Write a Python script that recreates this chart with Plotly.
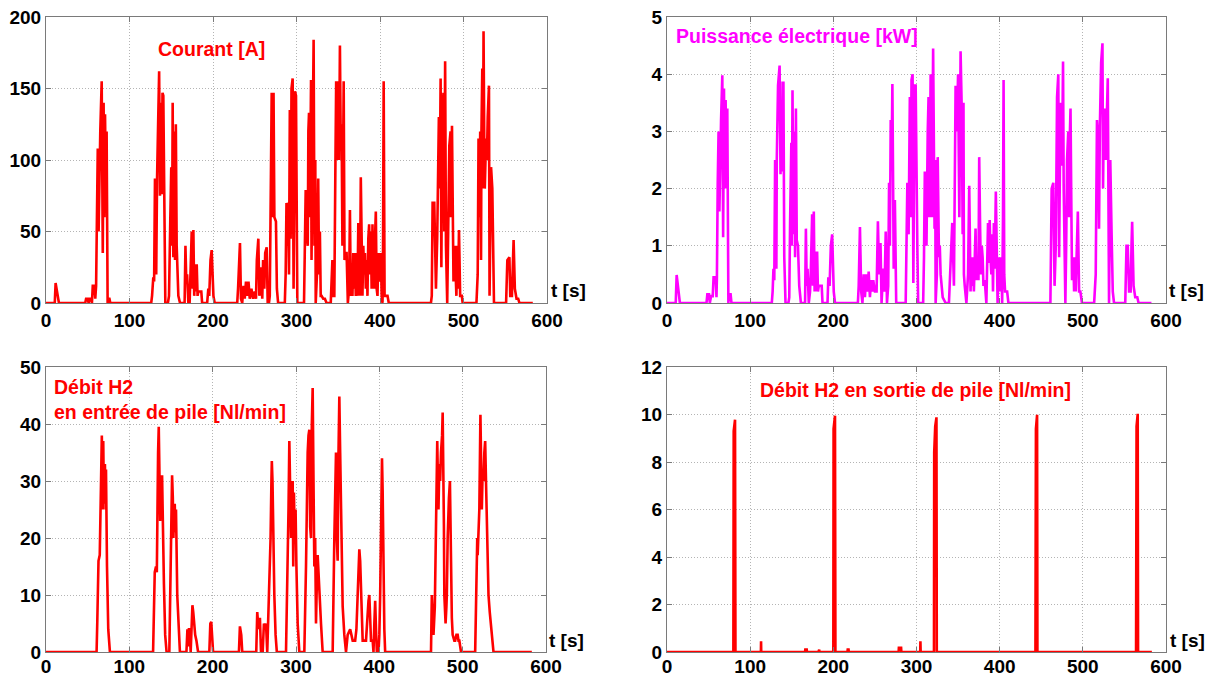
import plotly.graph_objects as go

# ---------------- data (t [s], value) ----------------
courant_pts = [
    (0, 0), (10.5, 0), (11.5, 14), (12.5, 10), (14, 3), (15.5, 0),
    (47, 0), (48, 3), (50, 3), (51, 0), (52, 3), (54, 3), (55, 0), (56, 12), (58, 12), (59, 3), (60, 12),
    (61, 70), (62, 108), (63, 50), (64, 95), (65, 120), (66.7, 155), (68, 35), (69, 140), (70, 60),
    (70.7, 132), (72, 65), (72.6, 120), (73.8, 0), (74.5, 3), (76, 3), (77, 0),
    (126, 0), (127, 5), (128.5, 18), (129.5, 15), (130.5, 87), (132, 20), (133, 87), (134.5, 150),
    (135.5, 162), (136.5, 75), (137.5, 140), (138.7, 76), (139.5, 147), (140.5, 145), (141.7, 30), (142.9, 0),
    (146, 0), (147.3, 5), (148.9, 60), (150, 95), (151, 40), (151.7, 140), (152.5, 32), (153.5, 120),
    (154.5, 30), (155.5, 125), (156.5, 40), (157.5, 20), (158.5, 5), (160.5, 0),
    (166, 0), (167, 40), (168, 15), (169, 20), (170.5, 0), (172, 0), (173, 15), (174.5, 50), (175.7, 10),
    (176.5, 51), (177.5, 5), (178.5, 27), (179.5, 8), (180.5, 27), (181.5, 5), (182.5, 8), (186, 8), (187, 0),
    (193, 0), (194.4, 10), (195.5, 5), (197, 30), (198.4, 37), (199.5, 15), (200.5, 5), (202, 0),
    (229, 0), (230, 10), (232.3, 42), (233.5, 3), (235, 0), (236.5, 12), (238, 3), (239.5, 15), (241, 5),
    (242.5, 15), (244, 3), (246, 10), (247, 5), (248, 3), (250, 8), (251.5, 3), (252.5, 30), (254.3, 45),
    (255.5, 5), (256.5, 10), (257.5, 25), (259, 3), (260, 30), (261.5, 10), (262.5, 35), (264.3, 39),
    (265.5, 0), (267, 0), (268, 5), (269, 70), (270.3, 147), (271.5, 60), (272.5, 147), (273.5, 60),
    (275.4, 57), (276.5, 10), (278, 0),
    (286, 0), (287, 20), (288, 70), (289, 40), (290, 70), (291, 20), (292, 135), (293, 45), (294, 150),
    (295.4, 157), (296.5, 10), (297, 45), (298.2, 148), (299.4, 145), (300, 72), (301, 0),
    (309, 0), (310, 30), (311, 79), (312, 50), (313.5, 40), (314.2, 120), (315, 133), (316, 60),
    (317.4, 156), (318, 30), (319.5, 150), (320.5, 184), (321.5, 40), (322.5, 100), (323, 0), (324.5, 20),
    (326, 87), (327, 20), (328, 50), (329, 5), (330, 5), (332, 3), (334, 3), (336, 0),
    (341, 0), (342, 20), (343, 30), (344, 5), (345.3, 5), (346.5, 90), (347.5, 155), (348.5, 100), (350, 155),
    (351, 100), (352, 180), (353, 110), (354, 125), (355, 40), (356.5, 155), (357.5, 30), (358.5, 35),
    (360, 35), (361.5, 0), (363, 10), (364, 65), (365, 5), (366, 15), (367, 5), (368, 35), (369, 10),
    (370, 35), (371, 5), (372, 35), (373, 5), (374, 55), (375, 55), (376, 5), (377, 88), (378, 40), (379, 5),
    (380, 40), (381, 20), (382, 35), (383, 10), (384, 30), (385, 5), (386, 45), (387, 55), (388, 20),
    (389, 50), (390, 10), (391, 55), (392, 15), (393, 10), (394, 45), (395, 64), (396, 10), (397, 5),
    (398, 35), (399, 15), (400, 20), (401, 35), (402, 5), (403, 0), (403.5, 20), (404.4, 155), (405.5, 5),
    (406.5, 5), (409, 5), (410.5, 0),
    (461, 0), (462, 5), (463, 70), (465, 70), (466, 30), (467, 10), (468.5, 45), (469.5, 100), (470.5, 130),
    (471.5, 80), (472.6, 157), (473.5, 25), (474.5, 130), (476, 147), (477, 50), (478, 169), (479, 40),
    (480.5, 0), (481.5, 40), (483, 110), (484.5, 120), (485, 60), (486.2, 124), (487, 60), (488, 15),
    (489.5, 40), (490.5, 10), (491.5, 5), (492.5, 40), (493.5, 10), (494.6, 51), (495.5, 10), (496, 5),
    (498, 5), (499, 0),
    (515.5, 0), (517, 20), (518, 115), (519, 60), (520, 120), (521, 30), (521.5, 120), (522.5, 164),
    (523.3, 80), (524, 190), (525, 100), (525.5, 80), (527, 115), (528, 100), (529, 130), (530.5, 152),
    (531.2, 5), (532, 40), (533, 95), (534.5, 80), (535.5, 50), (536.5, 0),
    (551, 0), (552.5, 30), (555, 32), (556, 5), (558, 5), (558.5, 20), (560, 44), (561.5, 10), (563.5, 3),
    (565.5, 3), (567, 0), (583, 0),
]

puissance_pts = [
    (0, 0), (10.5, 0), (11.6, 0.49), (12.5, 0.35), (14, 0.2), (15.5, 0),
    (47.5, 0), (48.5, 0.15), (50.5, 0.15), (51.5, 0), (53, 0.12), (55, 0.12), (56, 0.45), (58.5, 0.45),
    (59.5, 0.1), (60, 0.45),
    (61, 2.1), (62, 3.0), (63, 1.6), (64, 3.0), (65, 3.2), (66.5, 3.98), (67.5, 1.15), (68.5, 3.75),
    (69.5, 2.0), (70.5, 3.55), (71.5, 2.0), (72.5, 3.4), (73.8, 0), (74.5, 0.15), (76.5, 0.15), (77.5, 0),
    (126, 0), (127, 0.2), (128, 0.6), (129, 0.4), (130, 2.5), (131.5, 0.6), (132, 2.5), (133.5, 3.8),
    (135.4, 4.15), (136.5, 2.25), (137.5, 3.5), (138.5, 2.3), (139, 3.85), (140, 3.85), (141, 0.8), (142.5, 0),
    (146, 0), (147, 0.1), (148, 1.4), (149.5, 2.8), (150, 1.0), (150.9, 3.72), (152, 1.2), (153, 3.0),
    (154, 0.8), (155, 3.4), (156, 1.1), (157.5, 1.0), (159, 0.3), (161, 0),
    (166, 0), (167, 1.3), (168, 0.3), (169, 0.6), (170.5, 0), (172, 0.2), (173, 0.6), (174.5, 1.55),
    (175.5, 0.3), (176.5, 1.6), (177.5, 0.2), (178.5, 0.9), (179.5, 0.2), (180.5, 0.9), (181.5, 0.2),
    (182.5, 0.3), (186, 0.3), (187, 0),
    (193, 0), (194, 0.45), (195.5, 0.3), (197, 1.0), (198.6, 1.2), (199.5, 0.5), (200.5, 0.2), (202, 0),
    (229.5, 0), (230.5, 0.3), (232, 1.33), (233.5, 0.2), (235, 0), (236.5, 0.5), (238, 0.1), (239.5, 0.5),
    (241, 0.2), (242.5, 0.55), (244, 0.1), (245.5, 0.4), (247, 0.2), (248, 0.4), (250, 0.2), (252, 0.2),
    (253.6, 1.43), (255, 0.5), (256.7, 1.05), (258, 0), (259, 0.3), (260, 0.6), (261.5, 0.2), (262, 1.05),
    (263, 1.25), (264.5, 0), (266, 0.3), (267, 2.1), (268, 1.0), (269, 3.2), (270, 2.4), (271, 3.83),
    (272, 1.8), (272.6, 0.6), (274, 1.8), (275.6, 0),
    (287, 0), (287.5, 0.6), (289, 2.1), (290.5, 1.2), (292, 3.6), (293, 1.5), (294, 3.9), (295.3, 4.0),
    (296.2, 0.35), (297, 2.2), (298, 3.8), (299, 3.8), (300, 1.8), (301, 1.0), (302, 0),
    (308, 0), (309, 0.8), (310, 2.3), (311, 1.5), (312, 1.0), (313.5, 3.0), (314.5, 3.6), (315.5, 1.5),
    (317, 4.0), (318.5, 1.5), (319.3, 3.9), (320, 4.45), (321.7, 1.3), (322.5, 2.5), (323, 0), (324.5, 0.5),
    (325.5, 2.55), (327, 0.8), (328, 1.0), (329, 0.5), (331.5, 0.1), (335, 0),
    (339, 0), (340, 0.3), (341.5, 0.8), (343, 1.4), (345, 0.3), (346, 2.0), (347, 3.8), (348.5, 3.0),
    (350, 4.0), (351.5, 1.5), (353, 4.4), (354.5, 3.3), (355.5, 1.2), (356.5, 3.5), (357, 0.5), (358, 0.3),
    (360, 0), (362, 0.5), (363.4, 2.05), (365, 0.2), (366, 0.8), (367, 0.3), (368, 0.8), (369, 0.2),
    (370, 1.0), (371, 1.3), (372, 0.4), (373.5, 0.8), (374.5, 0.4), (375.4, 2.55), (376.5, 1.3),
    (377.5, 0.5), (378.5, 1.0), (379.5, 0.8), (380.5, 0.3), (382, 0.4), (384, 0), (385, 0.5), (386, 1.4),
    (387, 0.7), (388, 1.45), (389, 0.8), (390, 0.5), (391, 1.2), (392, 0.2), (393, 1.4), (394, 0.6),
    (395.4, 1.95), (396.5, 0.5), (397.5, 0), (399, 0.8), (400, 0.3), (401, 0.2), (402, 0.8), (403, 0),
    (404, 1.5), (404.7, 3.9), (405.5, 0.5), (406.5, 0.2), (409, 0.2), (410.5, 0),
    (461, 0), (462.5, 2.0), (464.5, 2.1), (465.5, 0.3), (466, 0.3), (467.5, 1.0), (468.3, 2.0), (469, 3.6),
    (470.5, 4.0), (471.5, 0.8), (472.5, 2.5), (473.8, 3.5), (475, 2.4), (476.2, 4.22), (477, 2.0),
    (478, 1.2), (479, 0), (480, 1.0), (481, 2.5), (482.5, 3.0), (483.5, 1.5), (484.5, 3.0), (485.2, 3.4),
    (486, 2.0), (487, 0.4), (488.5, 0.8), (489.5, 0.2), (490.5, 0.8), (491.5, 0.2), (492.5, 0.8),
    (494, 1.6), (495.5, 0.2), (497, 0.2), (499, 0),
    (513.6, 0), (515.5, 0.5), (517, 3.2), (518.5, 2.8), (519.5, 1.3), (520.5, 3.1), (522, 4.2),
    (523.6, 4.54), (524.3, 2.0), (525, 3.0), (526.7, 3.4), (527.5, 2.5), (528.5, 3.0), (530, 3.93),
    (531.5, 0), (533, 2.5), (534.6, 1.2), (536, 0.2), (537.5, 0),
    (551, 0), (552.5, 1.0), (554, 1.0), (555.6, 0.2), (557.5, 0.2), (558.5, 1.0), (559.3, 1.42), (561, 0.3),
    (563, 0.1), (565.5, 0.1), (567, 0), (582.5, 0),
]

debit_entree_pts = [
    (0, 0), (60.7, 0), (61.5, 5), (63, 16), (64.5, 17), (65.5, 28), (66.5, 32), (67, 38), (68, 25),
    (68.7, 37), (69.5, 26), (70.7, 33), (71.5, 25), (72, 32), (73.2, 15), (74, 8), (74.7, 4), (76.7, 0),
    (128.5, 0), (130.5, 14), (132, 15), (133, 14), (133.7, 30), (134.5, 35), (135.3, 39.5), (136.2, 28),
    (137, 23), (138, 31), (138.5, 25), (139.3, 31), (140, 23), (141.5, 12), (143, 3), (144.7, 0),
    (148, 0), (149.5, 15), (150.5, 22), (151.3, 31), (152.2, 27), (152.9, 20), (153.7, 25), (154.5, 26),
    (155.2, 21), (156, 25), (157.5, 10), (159.3, 3), (160.7, 0),
    (168.5, 0), (169.7, 4), (170.5, 2), (171, 1), (171.5, 4), (172.4, 4), (173.6, 0), (174.5, 3),
    (175.7, 8.2), (176.7, 7), (177.7, 5), (179, 3), (180.5, 2), (182.5, 0),
    (196, 0), (197.2, 5), (198.3, 5.3), (199, 3), (200.5, 0),
    (231.5, 0), (232.7, 4.5), (234.3, 3), (235.5, 0),
    (252.3, 0), (253.5, 7), (255, 4), (256, 5.5), (256.7, 6), (258, 0), (260, 0), (261.5, 5), (262.5, 4),
    (264, 5), (265.5, 0), (267.5, 10), (269.5, 20), (270.5, 30), (271, 33.5), (271.8, 30), (272.5, 23),
    (274, 10), (275.5, 3), (277, 0),
    (288, 0), (289.5, 10), (291, 25), (292, 37), (293, 30), (294, 20), (295, 27), (296, 30), (296.7, 15),
    (297.5, 28), (298.5, 20), (299.5, 25), (300.5, 15), (302, 5), (304, 0),
    (310, 0), (312, 15), (313, 30), (314, 35), (315, 38), (316, 39), (317, 22), (318, 20), (319, 40),
    (320, 46.3), (321, 30), (322, 15), (323, 20), (324, 5), (325, 12), (326, 17), (327, 14), (328, 10),
    (329, 6), (330, 5), (332, 0),
    (344, 0), (346, 20), (347, 30), (348, 35), (349, 20), (350, 16), (351, 35), (352, 44.8), (353, 35),
    (354, 25), (355, 12), (356, 8), (358, 3), (360, 0), (362, 3), (363.5, 3.5), (365, 4), (366.5, 3),
    (368, 2), (371, 2), (372.5, 4), (374, 10), (375, 15), (376, 18), (377, 16), (378, 10), (379, 6),
    (380, 2), (384, 2), (385, 5), (386, 8), (387, 9), (388, 10), (389, 5), (390, 2), (392, 2), (393, 0),
    (394, 5), (395, 9), (396, 4), (397, 0), (399, 0), (400, 3), (401, 10), (402, 25), (403.2, 34),
    (404, 28), (405, 10), (406, 4), (407, 0),
    (462, 0), (463, 10), (464, 7), (465, 3), (466.6, 8), (468, 20), (469, 30), (469.5, 37), (470.3, 30),
    (471, 25), (472, 33), (473, 30), (474, 35), (475.3, 38), (476, 42), (476.8, 35), (477.5, 22),
    (478, 10), (479.5, 5), (480.5, 8), (481, 10), (482, 20), (482.5, 25), (483.5, 27), (484.7, 30),
    (485.5, 20), (486, 10), (487, 6), (488, 3), (490, 2), (491, 2), (492.5, 3), (494, 3), (495, 2),
    (496, 2), (498, 0),
    (515, 0), (516.7, 15), (517.5, 20), (518, 17), (519, 22), (520, 25), (521.3, 41.6), (522.2, 33),
    (523, 25), (524, 32), (525, 30), (526, 35), (527, 37), (528, 30), (529.5, 20), (531, 10),
    (532.5, 7), (533.7, 5), (535, 3), (537, 0), (583, 0),
]

debit_sortie_pts = [
    (0, 0), (79.8, 0), (80.2, 9.3), (81.8, 9.78), (82.3, 0),
    (112.9, 0), (113.1, 0.45), (113.3, 0),
    (166, 0), (166.3, 0.1), (168, 0.1), (168.3, 0),
    (182, 0), (182.3, 0.1), (183, 0.1), (183.3, 0),
    (200, 0), (200.3, 9.4), (202, 9.95), (202.5, 0),
    (217, 0), (217.3, 0.1), (218.3, 0.1), (218.6, 0),
    (278.5, 0), (278.8, 0.18), (281.5, 0.18), (281.8, 0),
    (304.5, 0), (304.7, 0.45), (305, 0),
    (321, 0), (321.3, 8.4), (322.5, 9.5), (324, 9.88), (324.4, 0),
    (443, 0), (443.3, 5.0), (443.6, 9.4), (445, 9.99), (445.4, 0),
    (564, 0), (564.3, 7.0), (564.6, 9.5), (566, 10.03), (566.4, 0),
    (583, 0),
]

x_ticks = [0, 100, 200, 300, 400, 500, 600]
y_ticks = [[0, 50, 100, 150, 200], [0, 1, 2, 3, 4, 5], [0, 10, 20, 30, 40, 50], [0, 2, 4, 6, 8, 10, 12]]
titles = ["Courant [A]", "Puissance électrique [kW]",
          "Débit H2<br>en entrée de pile [Nl/min]", "Débit H2 en sortie de pile [Nl/min]"]
y_ranges = [[0, 200], [0, 5], [0, 50], [0, 12]]

# ---------------- figure ----------------
OFF = 8  # page body margin offset
W, H = 1215 - OFF, 677 - OFF
RED, MAG = "#FF0000", "#FF00FF"


def px_x(p):
    return (p - OFF) / W


def px_y(p):
    return 1 - (p - OFF) / H


def bold(vals):
    return ["<b>%s</b>" % v for v in vals]


fig = go.Figure()
series = [(courant_pts, RED), (puissance_pts, MAG), (debit_entree_pts, RED), (debit_sortie_pts, RED)]
for i, (pts, col) in enumerate(series):
    t, v = zip(*pts)
    ax = "" if i == 0 else str(i + 1)
    fig.add_trace(go.Scatter(x=list(t), y=list(v), mode="lines",
                             line=dict(color=col, width=2.6),
                             xaxis="x" + ax, yaxis="y" + ax, showlegend=False))

FAM = "Liberation Sans, Arial, sans-serif"
tickfont = dict(family=FAM, size=19, color="black")
common = dict(showgrid=True, gridcolor="#b4b4b4", griddash="1px,2px", gridwidth=1,
              showline=True, linecolor="#7a7a7a", linewidth=1, mirror="ticks",
              ticks="inside", ticklen=5, tickcolor="#7a7a7a", zeroline=False,
              tickfont=tickfont, fixedrange=True, automargin=False, ticklabeloverflow="allow")

x_domains = [[46, 547], [667, 1166], [46, 546], [667, 1166]]
y_domains = [[17, 303], [17, 303], [367, 652], [367, 652]]
x_standoff = [0, 0, -3, -3]

layout = dict(width=W, height=H, margin=dict(l=0, r=0, t=0, b=0, autoexpand=False),
              paper_bgcolor="white", plot_bgcolor="white", showlegend=False)
for i in range(4):
    ax = "" if i == 0 else str(i + 1)
    xd = [px_x(x_domains[i][0]), px_x(x_domains[i][1])]
    yd = [px_y(y_domains[i][1]), px_y(y_domains[i][0])]
    layout["xaxis" + ax] = dict(common, domain=xd, range=[0, 600], tickmode="array",
                                tickvals=x_ticks, ticktext=bold(x_ticks), anchor="y" + ax,
                                ticklabelstandoff=x_standoff[i])
    layout["yaxis" + ax] = dict(common, domain=yd, range=y_ranges[i], tickmode="array",
                                tickvals=y_ticks[i], ticktext=bold(y_ticks[i]), anchor="x" + ax)
fig.update_layout(**layout)

title_pos = [(157, 49, RED), (675, 36, MAG), (53, 399, RED), (759, 390, RED)]
for (px, py, col), txt in zip(title_pos, titles):
    fig.add_annotation(text="<b>%s</b>" % txt.replace("<br>", "</b><br><b>"),
                       x=px_x(px), y=px_y(py), xref="paper", yref="paper",
                       xanchor="left", yanchor="middle", align="left", showarrow=False,
                       font=dict(family=FAM, size=19.5, color=col), borderpad=0)

ts_pos = [(550, 290), (1168, 290), (548, 640), (1169, 640)]
for px, py in ts_pos:
    fig.add_annotation(text="<b>t [s]</b>", x=px_x(px), y=px_y(py), xref="paper", yref="paper",
                       xanchor="left", yanchor="middle", showarrow=False, borderpad=0,
                       font=dict(family=FAM, size=19, color="black"))

fig.write_html("out.html")
